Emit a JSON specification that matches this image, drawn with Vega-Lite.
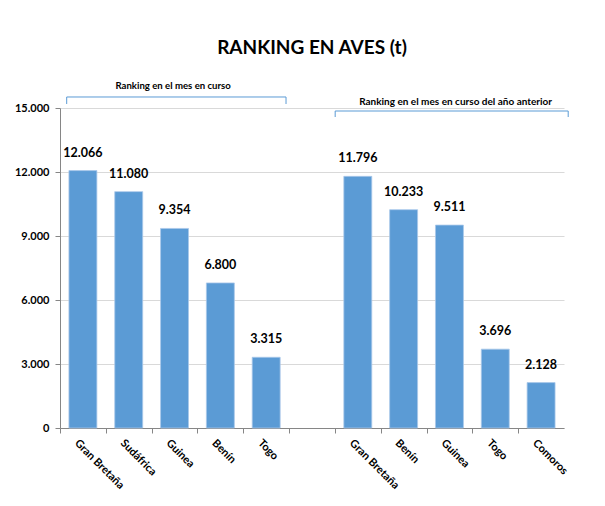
{
  "$schema": "https://vega.github.io/schema/vega-lite/v6.json",
  "width": 504,
  "height": 320,
  "padding": {"left": 14, "top": 39, "right": 30, "bottom": 5},
  "background": "white",
  "title": {
    "text": "RANKING EN AVES (t)",
    "font": "Lato",
    "fontSize": 19,
    "fontWeight": "bold",
    "color": "#000000",
    "anchor": "middle",
    "frame": "group",
    "offset": 23
  },
  "config": {
    "locale": {"number": {"decimal": ",", "thousands": ".", "grouping": [3], "currency": ["", " €"]}},
    "view": {"stroke": null},
    "font": "Lato"
  },
  "datasets": {
    "barras": [
      {"pais": "a1|Gran Bretaña", "t": 12066},
      {"pais": "a2|Sudáfrica", "t": 11080},
      {"pais": "a3|Guinea", "t": 9354},
      {"pais": "a4|Benín", "t": 6800},
      {"pais": "a5|Togo", "t": 3315},
      {"pais": "b1|Gran Bretaña", "t": 11796},
      {"pais": "b2|Benín", "t": 10233},
      {"pais": "b3|Guinea", "t": 9511},
      {"pais": "b4|Togo", "t": 3696},
      {"pais": "b5|Comoros", "t": 2128}
    ],
    "llaves": [
      {"grupo": "Ranking en el mes en curso", "desde": "a1|Gran Bretaña", "hasta": "a5|Togo", "centro": "a3|Guinea"},
      {"grupo": "Ranking en el mes en curso del año anterior", "desde": "b1|Gran Bretaña", "hasta": "b5|Comoros", "centro": "b3|Guinea"}
    ]
  },
  "encoding": {
    "x": {
      "field": "pais",
      "type": "nominal",
      "scale": {
        "domain": ["a1|Gran Bretaña", "a2|Sudáfrica", "a3|Guinea", "a4|Benín", "a5|Togo", "gap|", "b1|Gran Bretaña", "b2|Benín", "b3|Guinea", "b4|Togo", "b5|Comoros"],
        "paddingInner": 0.39,
        "paddingOuter": 0.195
      },
      "axis": {
        "title": null,
        "labelExpr": "split(datum.value, '|')[1]",
        "labelAngle": 45,
        "labelAlign": "left",
        "labelBaseline": "top",
        "labelFont": "Lato",
        "labelFontSize": 11,
        "labelFontWeight": "bold",
        "labelColor": "#000000",
        "labelPadding": 4,
        "labelOffset": 20,
        "tickOffset": -22.9,
        "tickSize": 5,
        "tickColor": "#868686",
        "domainColor": "#868686",
        "grid": false
      }
    }
  },
  "layer": [
    {
      "data": {"name": "barras"},
      "mark": {"type": "bar", "color": "#5b9bd5", "stroke": "#a9c8ea", "strokeWidth": 0.8},
      "encoding": {
        "y": {
          "field": "t",
          "type": "quantitative",
          "scale": {"domain": [0, 15000], "nice": false},
          "axis": {
            "title": null,
            "values": [0, 3000, 6000, 9000, 12000, 15000],
            "format": ",d",
            "labelFont": "Lato",
            "labelFontSize": 11,
            "labelFontWeight": "bold",
            "labelColor": "#000000",
            "labelPadding": 6,
            "tickSize": 5,
            "tickColor": "#868686",
            "domainColor": "#868686",
            "gridColor": "#d9d9d9",
            "gridWidth": 1
          }
        }
      }
    },
    {
      "data": {"name": "barras"},
      "mark": {"type": "text", "font": "Lato", "fontSize": 12.5, "fontWeight": "bold", "color": "#000000", "baseline": "bottom", "dy": -11},
      "encoding": {
        "y": {"field": "t", "type": "quantitative"},
        "text": {"field": "t", "type": "quantitative", "format": ",d"}
      }
    },
    {
      "data": {"name": "llaves"},
      "transform": [{"filter": "datum.grupo == 'Ranking en el mes en curso'"}],
      "layer": [
        {
          "mark": {"type": "rule", "color": "#5b9bd5", "strokeWidth": 1},
          "encoding": {
            "x": {"field": "desde", "type": "nominal", "bandPosition": -0.08},
            "x2": {"field": "hasta", "bandPosition": 1.21},
            "y": {"datum": 15516}
          }
        },
        {
          "mark": {"type": "rule", "color": "#5b9bd5", "strokeWidth": 1},
          "encoding": {
            "x": {"field": "desde", "type": "nominal", "bandPosition": -0.08},
            "y": {"datum": 15516},
            "y2": {"datum": 15188}
          }
        },
        {
          "mark": {"type": "rule", "color": "#5b9bd5", "strokeWidth": 1},
          "encoding": {
            "x": {"field": "hasta", "type": "nominal", "bandPosition": 1.21},
            "y": {"datum": 15516},
            "y2": {"datum": 15188}
          }
        },
        {
          "mark": {"type": "text", "font": "Lato", "fontSize": 9.6, "fontWeight": "bold", "color": "#000000", "baseline": "middle"},
          "encoding": {
            "x": {"field": "centro", "type": "nominal", "bandPosition": 0.45},
            "y": {"datum": 16031},
            "text": {"field": "grupo"}
          }
        }
      ]
    },
    {
      "data": {"name": "llaves"},
      "transform": [{"filter": "datum.grupo != 'Ranking en el mes en curso'"}],
      "layer": [
        {
          "mark": {"type": "rule", "color": "#5b9bd5", "strokeWidth": 1},
          "encoding": {
            "x": {"field": "desde", "type": "nominal", "bandPosition": -0.31},
            "x2": {"field": "hasta", "bandPosition": 1.47},
            "y": {"datum": 14859}
          }
        },
        {
          "mark": {"type": "rule", "color": "#5b9bd5", "strokeWidth": 1},
          "encoding": {
            "x": {"field": "desde", "type": "nominal", "bandPosition": -0.31},
            "y": {"datum": 14859},
            "y2": {"datum": 14578}
          }
        },
        {
          "mark": {"type": "rule", "color": "#5b9bd5", "strokeWidth": 1},
          "encoding": {
            "x": {"field": "hasta", "type": "nominal", "bandPosition": 1.47},
            "y": {"datum": 14859},
            "y2": {"datum": 14578}
          }
        },
        {
          "mark": {"type": "text", "font": "Lato", "fontSize": 10, "fontWeight": "bold", "color": "#000000", "baseline": "middle"},
          "encoding": {
            "x": {"field": "centro", "type": "nominal", "bandPosition": 0.72},
            "y": {"datum": 15281},
            "text": {"field": "grupo"}
          }
        }
      ]
    }
  ]
}
